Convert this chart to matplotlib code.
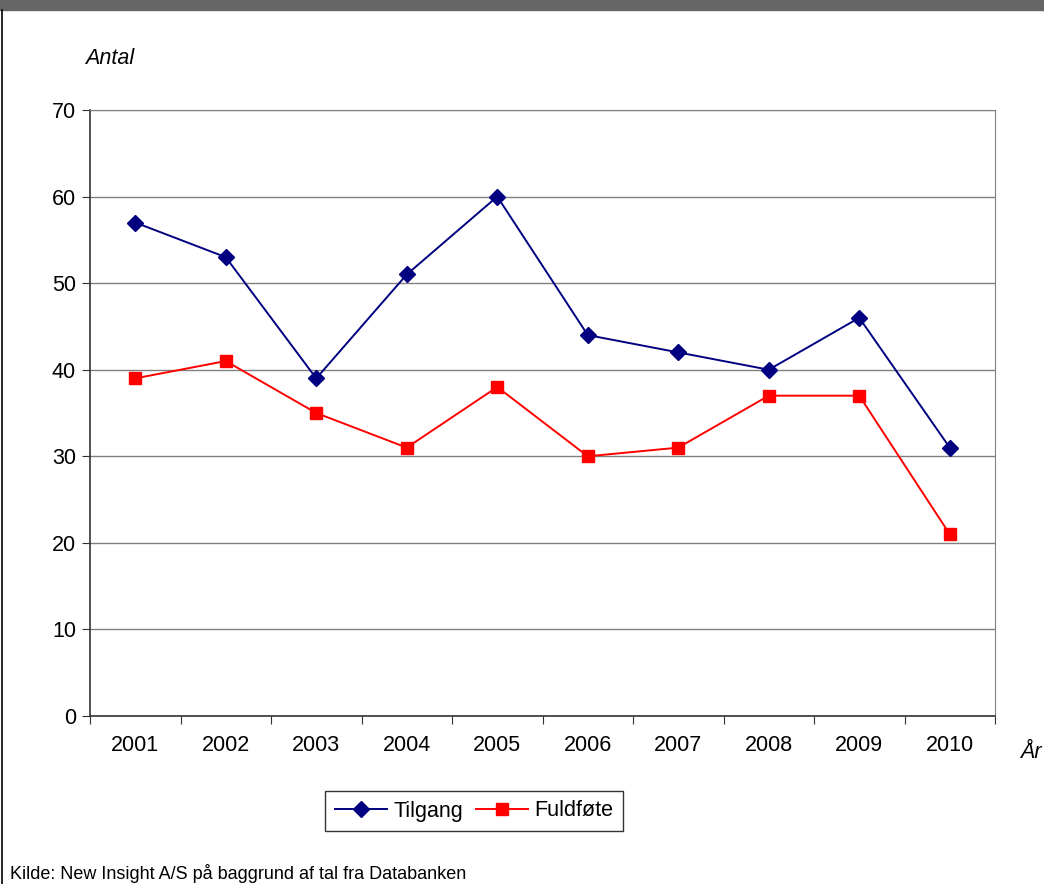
import matplotlib.pyplot as plt
from matplotlib.lines import Line2D
from matplotlib.patches import Rectangle

plt.rcParams['font.family'] = ['Liberation Sans', 'DejaVu Sans']

years = ['2001', '2002', '2003', '2004', '2005', '2006', '2007', '2008', '2009', '2010']
tilgang = [57, 53, 39, 51, 60, 44, 42, 40, 46, 31]
fuldfoete = [39, 41, 35, 31, 38, 30, 31, 37, 37, 21]

fig = plt.figure(figsize=(10.44, 8.84), dpi=100)
ax = fig.add_axes([90 / 1044, 168 / 884, 905 / 1044, 606 / 884])

x = list(range(1, len(years) + 1))
ax.plot(x, tilgang, color='#000080', lw=1.4, marker='D', ms=8,
        label='Tilgang', zorder=3)
ax.plot(x, fuldfoete, color='#ff0000', lw=1.4, marker='s', ms=8,
        label='Fuldføte', zorder=3)

ax.set_xlim(0.5, len(years) + 0.5)
ax.set_ylim(0, 70)
ax.set_yticks(range(0, 71, 10))
ax.yaxis.grid(True, color='#808080', lw=1)
ax.set_axisbelow(True)

ax.set_xticks([i + 0.5 for i in range(0, len(years) + 1)])
ax.set_xticklabels([])
ax.set_xticks(x, minor=True)
ax.set_xticklabels(years, minor=True)
ax.tick_params(axis='x', which='minor', length=0, pad=14, labelsize=15.5)
ax.tick_params(axis='x', which='major', length=6, direction='out', color='#333333')
ax.tick_params(axis='y', length=6, direction='out', labelsize=15.5, pad=4, color='#333333')

for s in ['top', 'right']:
    ax.spines[s].set_color('#808080')
for s in ['left', 'bottom']:
    ax.spines[s].set_color('#333333')
    ax.spines[s].set_linewidth(1.2)

fig.text(85 / 1044, 1 - 58 / 884, 'Antal', fontsize=15.5, style='italic', va='center')
fig.text(1020 / 1044, 1 - 752 / 884, 'År', fontsize=15.5, style='italic', va='center')

leg = fig.legend(handles=ax.get_lines(), loc='center', ncol=2,
                 bbox_to_anchor=(474 / 1044, 1 - 811 / 884),
                 fontsize=15.5, frameon=True, fancybox=False, edgecolor='black',
                 handlelength=2.4, columnspacing=0.6, handletextpad=0.3,
                 borderpad=0.45)
leg.get_frame().set_linewidth(1.0)

fig.text(10 / 1044, 1 / 884, 'Kilde: New Insight A/S på baggrund af tal fra Databanken',
         fontsize=13, va='bottom')

# top band and left border
fig.patches.append(Rectangle((0, 1 - 10 / 884), 1, 10 / 884, transform=fig.transFigure,
                             color='#666666', zorder=0))
fig.add_artist(Line2D([2 / 1044, 2 / 1044], [0, 1 - 10 / 884], transform=fig.transFigure,
                      color='black', lw=1.2))

fig.savefig('out.png', dpi=100)
